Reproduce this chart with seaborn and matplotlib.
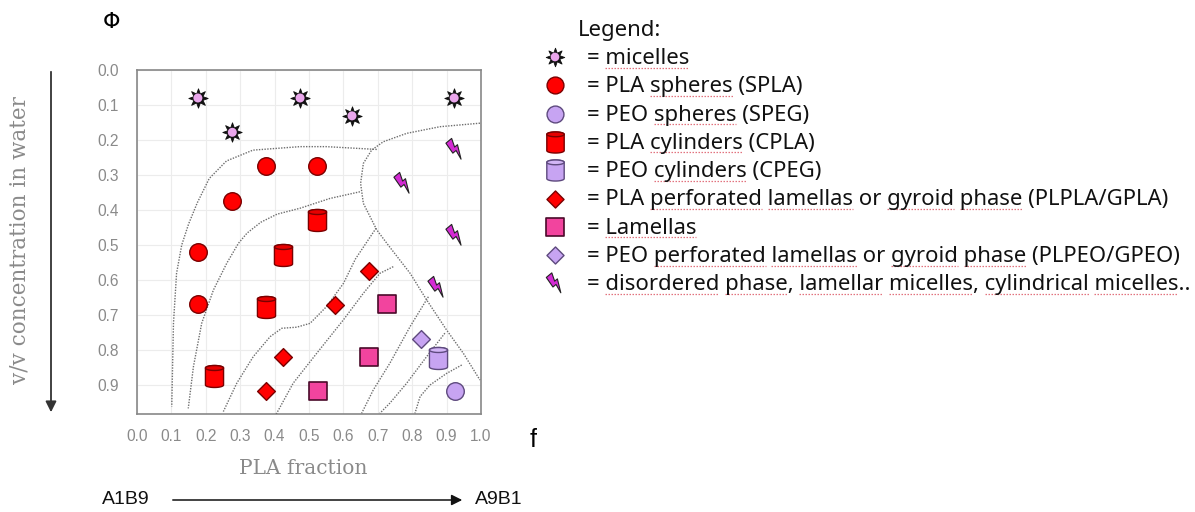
import numpy as np
import matplotlib
matplotlib.use('Agg')
import matplotlib.pyplot as plt
import seaborn as sns
from matplotlib.path import Path
from matplotlib.markers import MarkerStyle
from matplotlib.transforms import Affine2D

# phase points: x = PLA fraction f, y = v/v concentration in water (phi)
micelle_x = [0.177, 0.277, 0.474, 0.625, 0.922]
micelle_y = [0.080, 0.178, 0.080, 0.131, 0.080]
spla_x = [0.375, 0.523, 0.276, 0.177, 0.177]
spla_y = [0.274, 0.274, 0.374, 0.520, 0.669]
cpla_x = [0.523, 0.425, 0.375, 0.224]
cpla_y = [0.429, 0.530, 0.677, 0.874]
plpla_x = [0.674, 0.576, 0.425, 0.375]
plpla_y = [0.574, 0.671, 0.820, 0.917]
lam_x = [0.727, 0.674, 0.526]
lam_y = [0.669, 0.820, 0.917]
plpeo_x = [0.825]
plpeo_y = [0.769]
cpeg_x = [0.875]
cpeg_y = [0.823]
speg_x = [0.924]
speg_y = [0.917]
dis_x = [0.924, 0.773, 0.924, 0.872]
dis_y = [0.226, 0.323, 0.471, 0.620]

# phase boundaries (dotted curves)
bnd_micelle_x = [0.697, 0.55, 0.474, 0.337, 0.26, 0.21, 0.175, 0.15, 0.13, 0.115, 0.106, 0.101]
bnd_micelle_y = [0.227, 0.219, 0.219, 0.229, 0.26, 0.31, 0.38, 0.44, 0.50, 0.581, 0.724, 0.962]
bnd_dis_x = [0.997, 0.881, 0.784, 0.716, 0.682, 0.658, 0.65, 0.658, 0.697, 0.73, 0.794, 0.842, 0.90, 0.949, 0.997]
bnd_dis_y = [0.152, 0.162, 0.181, 0.205, 0.229, 0.267, 0.324, 0.381, 0.457, 0.50, 0.581, 0.657, 0.743, 0.81, 0.886]
bnd_cpla_x = [0.648, 0.561, 0.474, 0.407, 0.36, 0.32, 0.295, 0.261, 0.222, 0.188, 0.164, 0.149]
bnd_cpla_y = [0.348, 0.367, 0.395, 0.412, 0.435, 0.466, 0.495, 0.552, 0.629, 0.724, 0.848, 0.967]
bnd_plpla_x = [0.695, 0.635, 0.60, 0.551, 0.503, 0.464, 0.421, 0.387, 0.338, 0.29, 0.251]
bnd_plpla_y = [0.452, 0.540, 0.61, 0.676, 0.724, 0.735, 0.738, 0.762, 0.819, 0.895, 0.976]
bnd_lam_x = [0.745, 0.706, 0.658, 0.60, 0.522, 0.454, 0.401]
bnd_lam_y = [0.562, 0.581, 0.638, 0.714, 0.81, 0.895, 0.99]
bnd_plpeo_x = [0.847, 0.794, 0.735, 0.687, 0.653]
bnd_plpeo_y = [0.648, 0.733, 0.838, 0.914, 0.981]
bnd_cpeg_x = [0.895, 0.842, 0.784, 0.735, 0.706]
bnd_cpeg_y = [0.752, 0.819, 0.895, 0.952, 0.981]
bnd_speg_x = [0.944, 0.90, 0.852, 0.823, 0.808]
bnd_speg_y = [0.843, 0.867, 0.90, 0.933, 0.981]

tick_values = [0.0, 0.1, 0.2, 0.3, 0.4, 0.5, 0.6, 0.7, 0.8, 0.9, 1.0]
ytick_values = [0.0, 0.1, 0.2, 0.3, 0.4, 0.5, 0.6, 0.7, 0.8, 0.9]

legend_labels = [
    'micelles',
    'PLA spheres (SPLA)',
    'PEO spheres (SPEG)',
    'PLA cylinders (CPLA)',
    'PEO cylinders (CPEG)',
    'PLA perforated lamellas or gyroid phase (PLPLA/GPLA)',
    'Lamellas',
    'PEO perforated lamellas or gyroid phase (PLPEO/GPEO)',
    'disordered phase, lamellar micelles, cylindrical micelles..',
]
# words carrying the spell-check underline in the original
underlined = [
    ['micelles'], ['spheres'], ['spheres'], ['cylinders'], ['cylinders'],
    ['perforated', 'lamellas', 'gyroid', 'phase'], ['Lamellas'],
    ['perforated', 'lamellas', 'gyroid', 'phase'],
    ['disordered', 'phase', 'lamellar', 'micelles', 'cylindrical', 'micelles'],
]

RED, RED_EDGE = '#ff0000', '#7a0000'
LAV, LAV_EDGE = '#c7a4f2', '#5e4a7e'
PINK, PINK_EDGE = '#f2449e', '#4a0a2a'
MAG = '#d42ad4'
GREY = '#8a8a8a'
LEG_FONT = ['Noto Sans', 'DejaVu Sans']
LEG_FS = 15.9


# custom marker shapes
def cylinder_markers():
    t = np.linspace(0, np.pi, 24)
    rx, ry, h = 0.8, 0.22, 0.75
    bottom = np.column_stack([-rx * np.cos(t), -h - ry * np.sin(t)])
    top = np.column_stack([rx * np.cos(t), h + ry * np.sin(t)])
    verts = np.vstack([[-rx, h], bottom, top, [-rx, h]])
    codes = [Path.MOVETO] + [Path.LINETO] * (len(verts) - 2) + [Path.CLOSEPOLY]
    body = Path(verts, codes)
    tt = np.linspace(0, 2 * np.pi, 40)
    lid = np.column_stack([rx * np.cos(tt), h + ry * np.sin(tt)])
    lid = np.vstack([lid, lid[:1]])
    lid_codes = [Path.MOVETO] + [Path.LINETO] * (len(lid) - 2) + [Path.CLOSEPOLY]
    return MarkerStyle(body), MarkerStyle(Path(lid, lid_codes))


def bolt_marker():
    pts = np.array([(-0.30, 1.0), (0.38, 1.0), (0.08, 0.22), (0.42, 0.22),
                    (-0.18, -1.0), (-0.02, -0.10), (-0.40, -0.10), (-0.30, 1.0)])
    codes = [Path.MOVETO] + [Path.LINETO] * (len(pts) - 2) + [Path.CLOSEPOLY]
    return MarkerStyle(Path(pts, codes), transform=Affine2D().rotate_deg(40))


CYL_BODY, CYL_LID = cylinder_markers()
BOLT = bolt_marker()
STAR = MarkerStyle((8, 1, 0))


def draw_phase(ax, x, y, kind, color=None, edge=None, k=1.0):
    if kind == 'micelle':
        sns.scatterplot(x=x, y=y, ax=ax, marker=STAR, s=195 * k, color='#111111', edgecolor='#111111', linewidth=0.6, zorder=5)
        sns.scatterplot(x=x, y=y, ax=ax, marker='o', s=42 * k, color='#eaa6ec', edgecolor='none', linewidth=0, zorder=6)
    elif kind == 'sphere':
        sns.scatterplot(x=x, y=y, ax=ax, marker='o', s=160 * k, color=color, edgecolor=edge, linewidth=1.0, zorder=5)
    elif kind == 'cylinder':
        sns.scatterplot(x=x, y=y, ax=ax, marker=CYL_BODY, s=250 * k, color=color, edgecolor=edge, linewidth=1.0, zorder=5)
        lid = '#e60000' if color == RED else '#d2b5f6'
        sns.scatterplot(x=x, y=y, ax=ax, marker=CYL_LID, s=250 * k, color=lid, edgecolor=edge, linewidth=1.0, zorder=6)
    elif kind == 'diamond':
        sns.scatterplot(x=x, y=y, ax=ax, marker='D', s=82 * k, color=color, edgecolor=edge, linewidth=1.0, zorder=5)
    elif kind == 'square':
        sns.scatterplot(x=x, y=y, ax=ax, marker='s', s=175 * k, color=color, edgecolor=edge, linewidth=1.2, zorder=5)
    elif kind == 'bolt':
        sns.scatterplot(x=x, y=y, ax=ax, marker=BOLT, s=250 * k, color=MAG, edgecolor='#222222', linewidth=0.8, zorder=5)


sns.set_style('white')
plt.rcParams['font.family'] = ['Liberation Sans', 'DejaVu Sans']

fig = plt.figure(figsize=(11.95, 5.12), dpi=100)

# overlay axes in pixel coordinates for annotations and legend
lax = fig.add_axes([0, 0, 1, 1])
lax.set_xlim(0, 1195)
lax.set_ylim(512, 0)
lax.axis('off')

ax = fig.add_axes([137 / 1195, 1 - 414 / 512, 344 / 1195, 344 / 512])
ax.set_xlim(0, 1.0)
ax.set_ylim(0.983, 0)

for bx, by in [(bnd_micelle_x, bnd_micelle_y), (bnd_dis_x, bnd_dis_y), (bnd_cpla_x, bnd_cpla_y),
               (bnd_plpla_x, bnd_plpla_y), (bnd_lam_x, bnd_lam_y), (bnd_plpeo_x, bnd_plpeo_y),
               (bnd_cpeg_x, bnd_cpeg_y), (bnd_speg_x, bnd_speg_y)]:
    sns.lineplot(x=bx, y=by, ax=ax, sort=False, estimator=None, color='#6e6e6e',
                 linewidth=1.0, linestyle=(0, (1, 1)), zorder=3)

draw_phase(ax, micelle_x, micelle_y, 'micelle')
draw_phase(ax, spla_x, spla_y, 'sphere', RED, RED_EDGE)
draw_phase(ax, cpla_x, cpla_y, 'cylinder', RED, RED_EDGE)
draw_phase(ax, plpla_x, plpla_y, 'diamond', RED, RED_EDGE)
draw_phase(ax, lam_x, lam_y, 'square', PINK, PINK_EDGE)
draw_phase(ax, plpeo_x, plpeo_y, 'diamond', LAV, LAV_EDGE)
draw_phase(ax, cpeg_x, cpeg_y, 'cylinder', LAV, LAV_EDGE)
draw_phase(ax, speg_x, speg_y, 'sphere', LAV, LAV_EDGE)
draw_phase(ax, dis_x, dis_y, 'bolt')

ax.set_xticks(tick_values)
ax.set_xticklabels([f'{v:.1f}' for v in tick_values])
ax.set_yticks(ytick_values)
ax.set_yticklabels([f'{v:.1f}' for v in ytick_values])
ax.tick_params(axis='x', length=0, pad=11, labelsize=11.2, labelcolor=GREY)
ax.tick_params(axis='y', length=0, pad=13, labelsize=11.2, labelcolor=GREY)
ax.grid(True, color='#ececec', linewidth=0.8)
ax.set_axisbelow(True)
ax.set_xlabel('')
ax.set_ylabel('')
for sp in ax.spines.values():
    sp.set_visible(True)
    sp.set_color('#888888')
    sp.set_linestyle((0, (1, 1)))
    sp.set_linewidth(1.2)

# axis decorations
lax.text(112, 22, 'Φ', fontsize=16, ha='center', va='center', color='black', family=['DejaVu Sans'])
lax.text(533, 440, 'f', fontsize=18, ha='center', va='center', color='black')
lax.text(303, 468, 'PLA fraction', fontsize=14.5, ha='center', va='center', color=GREY, family=['DejaVu Serif'])
lax.text(20, 240, 'v/v concentration in water', fontsize=15.5, ha='center', va='center', rotation=90,
         color=GREY, family=['DejaVu Serif'])
lax.annotate('', xy=(51, 415), xytext=(51, 69),
             arrowprops=dict(arrowstyle='-|>', color='#333333', lw=1.3, mutation_scale=16))
lax.annotate('', xy=(465, 500), xytext=(170, 500),
             arrowprops=dict(arrowstyle='-|>', color='#111111', lw=1.1, mutation_scale=16))
lax.text(126, 500, 'A1B9', fontsize=14, ha='center', va='center', color='#111111')
lax.text(499, 500, 'A9B1', fontsize=14, ha='center', va='center', color='#111111')

# legend
lax.text(578, 36, 'Legend:', fontsize=LEG_FS, ha='left', va='baseline', color='#111111', family=LEG_FONT)
legend_kinds = [('micelle', None, None), ('sphere', RED, RED_EDGE), ('sphere', LAV, LAV_EDGE),
                ('cylinder', RED, RED_EDGE), ('cylinder', LAV, LAV_EDGE), ('diamond', RED, RED_EDGE),
                ('square', PINK, PINK_EDGE), ('diamond', LAV, LAV_EDGE), ('bolt', None, None)]
rows = []
for i, (label, (kind, c, e)) in enumerate(zip(legend_labels, legend_kinds)):
    ry = 57 + 28.3 * i
    draw_phase(lax, [555], [ry], kind, c, e, k=0.92)
    s = '= ' + label
    lax.text(587, ry + 7, s, fontsize=LEG_FS, ha='left', va='baseline', color='#111111', family=LEG_FONT)
    rows.append((s, ry + 7))

# spell-check underlines below the legend words
fig.canvas.draw()
renderer = fig.canvas.get_renderer()


def text_width(s):
    t = lax.text(0, 0, s, fontsize=LEG_FS, family=LEG_FONT)
    w = t.get_window_extent(renderer).width
    t.remove()
    return w


for (s, base), words in zip(rows, underlined):
    pos = 0
    for w in words:
        idx = s.find(w, pos)
        pos = idx + len(w)
        x1 = 587 + text_width(s[:pos])
        x0 = x1 - text_width(w)
        lax.plot([x0, x1], [base + 3.5, base + 3.5], color='#e2737f', lw=0.9,
                 linestyle=(0, (1.2, 1.2)), zorder=2)

fig.savefig('out.png', dpi=100)
